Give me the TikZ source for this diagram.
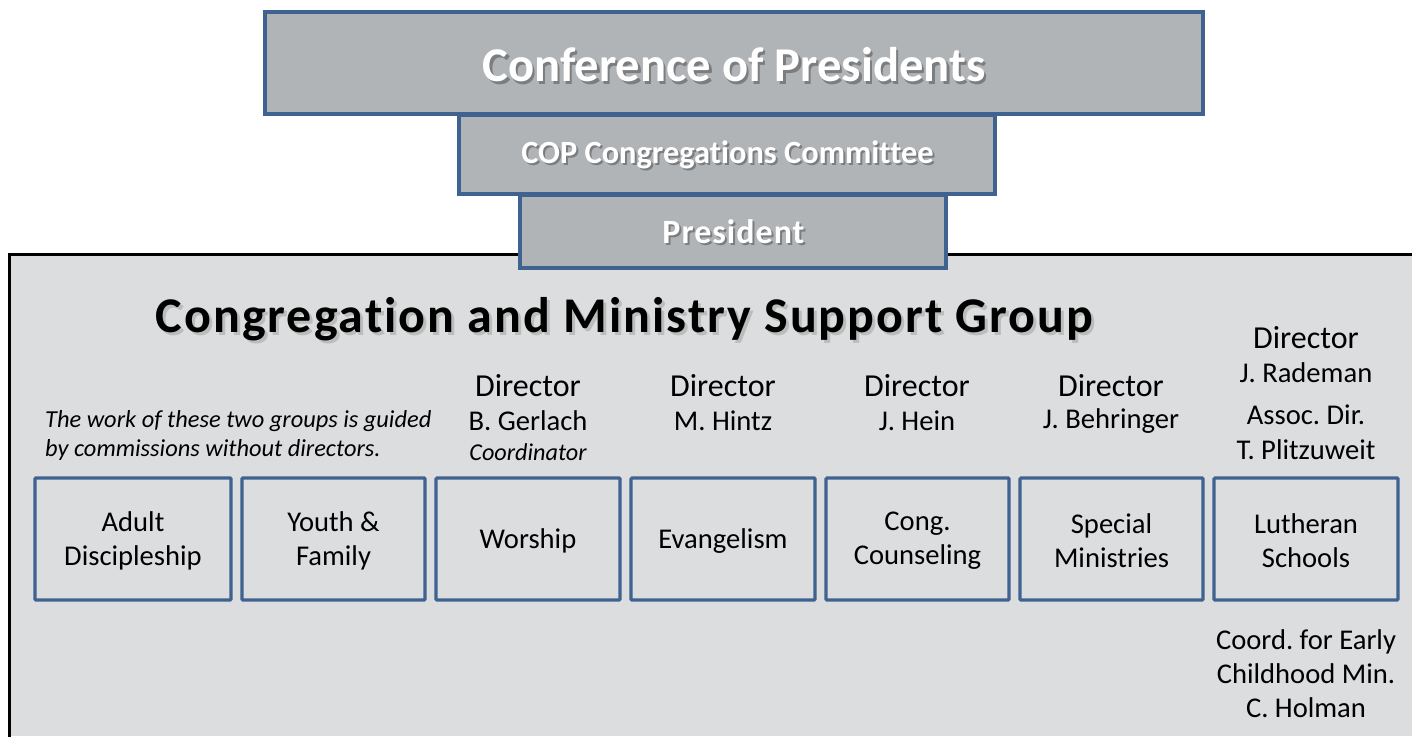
\documentclass[tikz,border=0pt]{standalone}
\usepackage{fontspec}
\setmainfont{Carlito}[Ligatures=NoCommon]
\frenchspacing
\definecolor{boxblue}{HTML}{3F6290}
\definecolor{topfill}{HTML}{B1B4B7}
\definecolor{panelfill}{HTML}{DCDDDF}
\tikzset{
  topbox/.style={draw=boxblue, line width=3.2pt, fill=topfill},
  unitbox/.style={draw=boxblue, line width=3.2pt, rounded corners=1pt},
  shadowtext/.style={text=black, opacity=0.3},
  lbl/.style={inner sep=0pt, align=center, text=black},
}
\begin{document}
\begin{tikzpicture}[x=1pt,y=-1pt]
\useasboundingbox (0,0) rectangle (1412,736);
% panel
\fill[panelfill] (9,254) rectangle (1412,736);
\draw[black, line width=3pt] (9,737) -- (9,254) -- (1413,254);
% top boxes
\draw[topbox] (265,12) rectangle (1203,114);
\draw[topbox] (459,115) rectangle (995,194);
\draw[topbox] (520,195) rectangle (946,268);
\node[lbl, shadowtext, font=\bfseries\fontsize{48.6}{56}\selectfont] at (736.5,67.5) {Conference of Presidents};
\node[lbl, text=white, font=\bfseries\fontsize{48.6}{56}\selectfont] (cop) at (734,65) {Conference of Presidents};
\node[lbl, shadowtext, font=\bfseries\fontsize{32.4}{38}\selectfont] at (729.5,156.5) {COP Congregations Committee};
\node[lbl, text=white, font=\bfseries\fontsize{32.4}{38}\selectfont] (copc) at (727.5,154.5) {COP Congregations Committee};
\node[lbl, shadowtext, font=\bfseries\fontsize{34}{40}\selectfont] at (735.5,234) {\addfontfeatures{LetterSpace=3}President};
\node[lbl, text=white, font=\bfseries\fontsize{34}{40}\selectfont] (pres) at (733.5,232) {\addfontfeatures{LetterSpace=3}President};
% title
\node[lbl, text=gray!70, opacity=0.6, font=\bfseries\fontsize{50}{58}\selectfont] at (627.5,322) {\addfontfeatures{LetterSpace=4}Congregation and Ministry Support Group};
\node[lbl, font=\bfseries\fontsize{50}{58}\selectfont] (title) at (624.5,319) {\addfontfeatures{LetterSpace=4}Congregation and Ministry Support Group};
% note
\node[lbl, align=left, anchor=west, font=\itshape\fontsize{24.4}{29}\selectfont] (note) at (45,435) {The work of these two groups is guided\\by commissions without directors.};
% unit boxes
\foreach \n/\a/\b/\t in {adult/35/231/{Adult\\Discipleship}, youth/242/425/{Youth \&\\Family}, worship/436/620/{Worship}, evang/631/815/{Evangelism}, cong/826/1009/{Cong.\\Counseling}, special/1020/1203/{Special\\Ministries}, luth/1214/1398/{Lutheran\\Schools}}{
  \draw[unitbox] (\a,478) rectangle (\b,600);
  \node[lbl, font=\fontsize{28.6}{34}\selectfont] (\n) at ({(\a+\b)/2},541) {\t};
}
% directors
\foreach \n/\x/\who in {dw/528/B. Gerlach, de/723/M. Hintz, dc/917/J. Hein, ds/1111/J. Behringer}{
  \node[lbl, font=\fontsize{32}{38}\selectfont] (\n) at (\x,386) {Director};
  \node[lbl, font=\fontsize{28.6}{34}\selectfont] (\n n) at (\x,421) {\who};
}
\node[lbl, font=\itshape\fontsize{24.2}{28}\selectfont] (coordw) at (528,452) {Coordinator};
\node[lbl, font=\fontsize{32}{38}\selectfont] (dl) at (1306,338) {Director};
\node[lbl, font=\fontsize{28.6}{34}\selectfont] (dln) at (1306,373) {J. Rademan};
\node[lbl, font=\fontsize{28.6}{35}\selectfont] (dla) at (1306,432) {Assoc. Dir.\\T. Plitzuweit};
\node[lbl, font=\fontsize{28.6}{34}\selectfont] (early) at (1306,674) {Coord. for Early\\Childhood Min.\\C. Holman};
\end{tikzpicture}
\end{document}
